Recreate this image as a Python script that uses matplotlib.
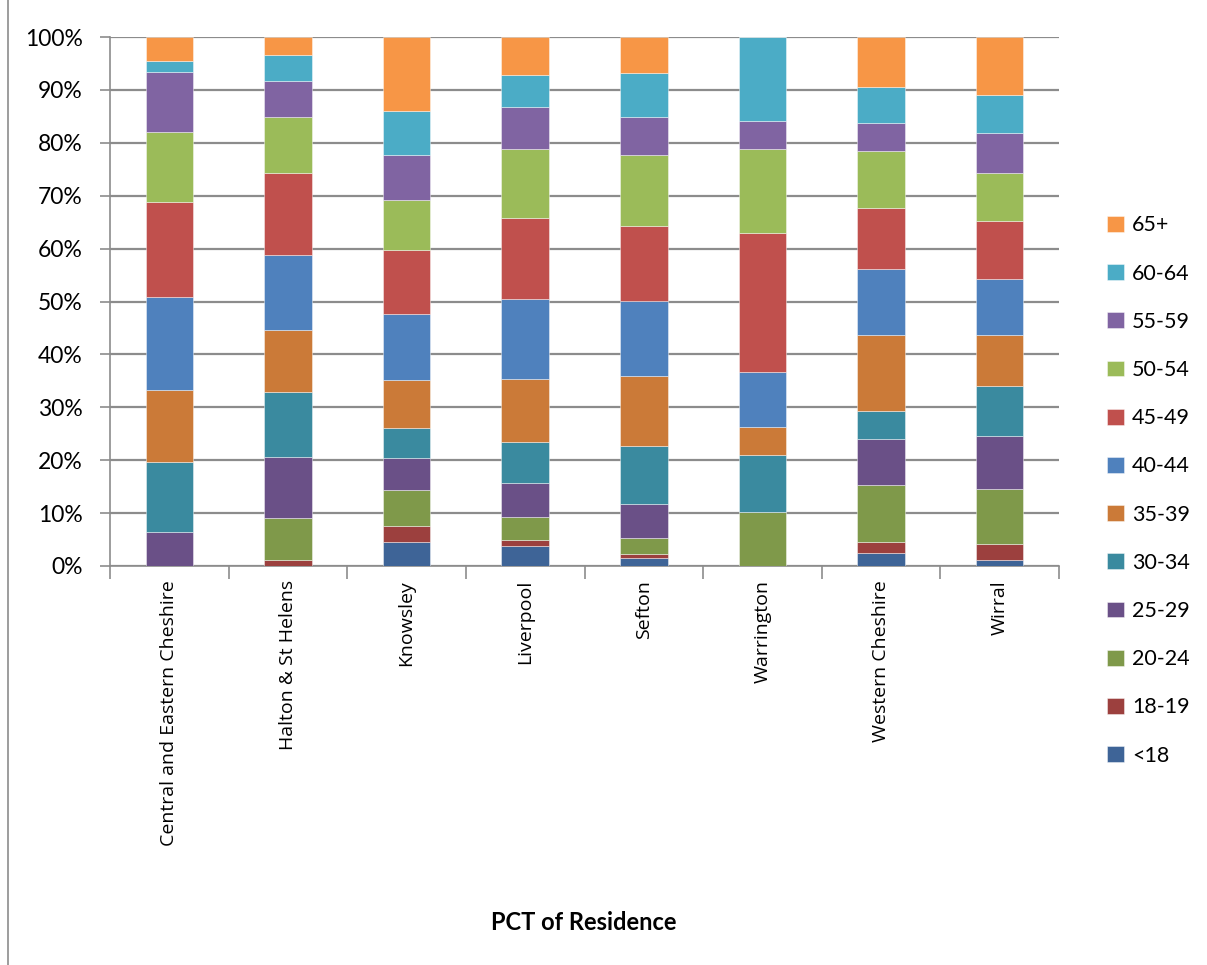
import matplotlib
matplotlib.use("Agg")
import matplotlib.pyplot as plt
import numpy as np
from matplotlib.lines import Line2D

plt.rcParams['font.family'] = ['Lato', 'DejaVu Sans']

categories = ["Central and Eastern Cheshire", "Halton & St Helens", "Knowsley",
              "Liverpool", "Sefton", "Warrington", "Western Cheshire", "Wirral"]
age_groups = ["<18", "18-19", "20-24", "25-29", "30-34", "35-39", "40-44",
              "45-49", "50-54", "55-59", "60-64", "65+"]

# percentage share per age group (rows = age groups, columns = categories)
lt18   = [0.0, 0.0, 4.5, 3.75, 1.5, 0.0, 2.4, 1.1]
a18_19 = [0.0, 1.2, 3.0, 1.15, 0.8, 0.0, 2.1, 3.0]
a20_24 = [0.0, 7.9, 6.8, 4.4, 3.0, 10.3, 10.8, 10.5]
a25_29 = [6.4, 11.5, 6.2, 6.4, 6.4, 0.0, 8.7, 10.0]
a30_34 = [13.3, 12.3, 5.6, 7.8, 10.9, 10.6, 5.3, 9.4]
a35_39 = [13.5, 11.8, 9.1, 11.9, 13.4, 5.3, 14.3, 9.6]
a40_44 = [17.7, 14.0, 12.5, 15.0, 14.1, 10.4, 12.6, 10.7]
a45_49 = [17.85, 15.6, 12.0, 15.4, 14.2, 26.4, 11.5, 10.9]
a50_54 = [13.35, 10.5, 9.4, 13.0, 13.3, 15.9, 10.8, 9.1]
a55_59 = [11.2, 6.9, 8.5, 8.0, 7.2, 5.2, 5.25, 7.6]
a60_64 = [2.2, 4.9, 8.5, 6.1, 8.4, 15.9, 6.75, 7.2]
a65p   = [4.5, 3.4, 13.9, 7.1, 6.8, 0.0, 9.5, 10.9]

series = [lt18, a18_19, a20_24, a25_29, a30_34, a35_39, a40_44,
          a45_49, a50_54, a55_59, a60_64, a65p]
colors = ["#3E6497", "#9C403E", "#7F994A", "#6A5087", "#3A8A9F", "#CB7A38",
          "#4F81BD", "#C0504D", "#9BBB59", "#8064A2", "#4BACC6", "#F79646"]

fig = plt.figure(figsize=(12.07, 9.65), dpi=100)
ax = fig.add_axes([110/1207, 1 - 566/965, (1059-110)/1207, (566-37)/965])

x = np.arange(len(categories))
data = np.array(series, dtype=float)
totals = data.sum(axis=0)
bottom = np.zeros(len(categories))
for vals, col, lab in zip(data, colors, age_groups):
    frac = vals / totals
    ax.bar(x, frac, width=0.4, bottom=bottom, color=col, label=lab,
           edgecolor=(1, 1, 1, 0.5), linewidth=0.6, zorder=3)
    bottom += frac

ax.set_xlim(-0.5, len(categories) - 0.5)
ax.set_ylim(0, 1)
ticks = np.linspace(0, 1, 11)
ax.set_yticks(ticks)
ax.set_yticklabels([f"{int(round(v*100))}%" for v in ticks], fontsize=16.5)
ax.yaxis.grid(True, color="#8C8C8C", linewidth=1.6, zorder=0)
ax.set_axisbelow(True)

ax.set_xticks(x)
ax.set_xticklabels(categories, rotation=90, fontsize=14,
                   fontfamily=['Open Sans', 'DejaVu Sans'])
ax.tick_params(axis='x', length=0, pad=10)
ax.set_xticks(np.arange(-0.5, len(categories), 1.0), minor=True)
ax.tick_params(axis='x', which='minor', length=9, width=1.2, color="#8C8C8C")
ax.tick_params(axis='y', length=7, width=1.2, color="#8C8C8C", pad=12.5)

for s in ['top', 'right']:
    ax.spines[s].set_visible(False)
for s in ['left', 'bottom']:
    ax.spines[s].set_color("#8C8C8C")
    ax.spines[s].set_linewidth(1.2)

fig.text(584/1207, 1 - 922/965, "PCT of Residence", ha='center', va='center',
         fontsize=17, fontweight='bold')

handles, labels = ax.get_legend_handles_labels()
fig.legend(handles[::-1], labels[::-1], loc='upper left',
           bbox_to_anchor=(1088/1207, 1 - 196/965), frameon=False,
           fontsize=15.5, labelspacing=1.31, handlelength=0.75,
           handleheight=0.75, handletextpad=0.4)

fig.add_artist(Line2D([8/1207, 8/1207], [0, 1], color="#8C8C8C", linewidth=1.2,
                      transform=fig.transFigure))

fig.savefig("out.png", dpi=100)
